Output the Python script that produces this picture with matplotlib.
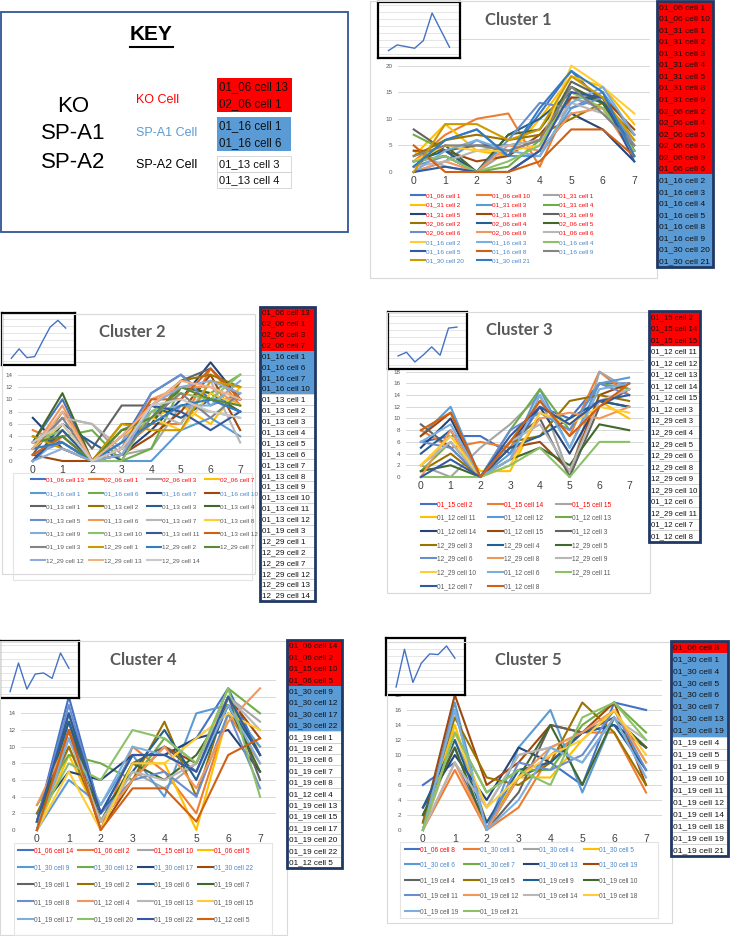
import numpy as np
import matplotlib
matplotlib.use("Agg")
import matplotlib.pyplot as plt
from matplotlib.patches import Rectangle
from matplotlib.lines import Line2D

W, H = 730, 936

# ---------------------------------------------------------
# Data
# ---------------------------------------------------------
x_cats = [0, 1, 2, 3, 4, 5, 6, 7]

key_names = ["01_06 cell 13", "02_06 cell 1", "01_16 cell 1", "01_16 cell 6",
             "01_13 cell 3", "01_13 cell 4"]
key_groups = ["KO", "KO", "A1", "A1", "A2", "A2"]

c1_names = ["01_06 cell 1", "01_06 cell 10", "01_31 cell 1", "01_31 cell 2", "01_31 cell 3",
            "01_31 cell 4", "01_31 cell 5", "01_31 cell 8", "01_31 cell 9", "02_06 cell 2",
            "02_06 cell 4", "02_06 cell 5", "02_06 cell 6", "02_06 cell 9", "01_06 cell 6",
            "01_16 cell 2", "01_16 cell 3", "01_16 cell 4", "01_16 cell 5", "01_16 cell 8",
            "01_16 cell 9", "01_30 cell 20", "01_30 cell 21"]
c1_groups = ["KO"] * 15 + ["A1"] * 8
c1_values = [
    [1, 6, 8, 3, 11, 19, 13, 3],
    [2, 7, 10, 11, 1, 14, 12, 3],
    [4, 1, 0, 4, 6, 14, 12, 6],
    [3, 9, 4, 3, 10, 18, 16, 9],
    [0, 2, 6, 3, 3, 12, 15, 7],
    [7, 4, 0, 1, 6, 16, 13, 4],
    [2, 3, 0, 0, 4, 11, 8, 2],
    [4, 4, 2, 3, 7, 14, 14, 8],
    [8, 4, 5, 5, 6, 17, 14, 4],
    [3, 6, 7, 6, 7, 10, 13, 7],
    [2, 4, 0, 7, 10, 15, 13, 5],
    [1, 5, 0, 7, 8, 16, 13, 4],
    [1, 3, 0, 6, 13, 12, 14, 5],
    [0, 2, 0, 5, 4, 11, 12, 3],
    [1, 2, 4, 5, 6, 13, 11, 5],
    [2, 5, 4, 4, 5, 20, 16, 11],
    [0, 4, 6, 4, 3, 13, 16, 7],
    [2, 3, 0, 2, 5, 15, 12, 4],
    [0, 1, 0, 0, 4, 15, 14, 2],
    [5, 0, 0, 0, 2, 8, 8, 3],
    [3, 5, 5, 4, 6, 16, 11, 5],
    [0, 9, 9, 6, 8, 18, 14, 6],
    [1, 6, 8, 3, 12, 19, 15, 3],
]
c1_mean = [2.2, 3.9, 3.4, 2.9, 5.2, 13.4, 8.3, 3.2]

c2_names = ["01_06 cell 13", "02_06 cell 1", "02_06 cell 3", "02_06 cell 7",
            "01_16 cell 1", "01_16 cell 6", "01_16 cell 7", "01_16 cell 10",
            "01_13 cell 1", "01_13 cell 2", "01_13 cell 3", "01_13 cell 4",
            "01_13 cell 5", "01_13 cell 6", "01_13 cell 7", "01_13 cell 8",
            "01_13 cell 9", "01_13 cell 10", "01_13 cell 11", "01_13 cell 12",
            "01_19 cell 3", "12_29 cell 1", "12_29 cell 2", "12_29 cell 7",
            "12_29 cell 12", "12_29 cell 13", "12_29 cell 14"]
c2_groups = ["KO"] * 4 + ["A1"] * 4 + ["A2"] * 19
c2_values = [
    [3, 10, 0, 3, 11, 14, 10, 10],
    [5, 3, 0, 2, 6, 6, 15, 9],
    [2, 7, 6, 1, 2, 9, 8, 7],
    [2, 6, 0, 5, 7, 9, 6, 12],
    [0, 5, 0, 0, 0, 5, 7, 4],
    [3, 4, 5, 0, 2, 12, 11, 14],
    [7, 2, 0, 1, 5, 10, 16, 10],
    [1, 0, 0, 1, 4, 8, 14, 5],
    [1, 8, 2, 9, 9, 13, 15, 10],
    [4, 3, 0, 6, 6, 13, 14, 12],
    [0, 6, 3, 0, 9, 7, 10, 8],
    [3, 11, 0, 5, 6, 12, 11, 8],
    [1, 3, 0, 2, 11, 14, 9, 11],
    [2, 9, 0, 3, 10, 12, 12, 9],
    [3, 7, 6, 2, 8, 6, 13, 3],
    [2, 6, 0, 4, 7, 5, 11, 9],
    [0, 4, 0, 3, 8, 9, 9, 13],
    [3, 5, 0, 0, 8, 11, 10, 14],
    [0, 5, 0, 4, 9, 8, 5, 8],
    [1, 4, 0, 2, 10, 10, 15, 10],
    [2, 7, 0, 1, 7, 11, 7, 11],
    [4, 2, 0, 6, 5, 5, 13, 12],
    [2, 3, 0, 3, 6, 9, 10, 8],
    [3, 4, 0, 5, 7, 12, 10, 9],
    [0, 2, 0, 1, 9, 12, 13, 11],
    [2, 8, 0, 4, 9, 13, 12, 10],
    [3, 6, 0, 2, 9, 10, 8, 7],
]
c2_mean = [2.0, 4.8, 2.2, 2.5, 7.0, 11.3, 13.3, 11.0]

c3_names = ["01_15 cell 2", "01_15 cell 14", "01_15 cell 15", "01_12 cell 11",
            "01_12 cell 12", "01_12 cell 13", "01_12 cell 14", "01_12 cell 15",
            "01_12 cell 3", "12_29 cell 3", "12_29 cell 4", "12_29 cell 5",
            "12_29 cell 6", "12_29 cell 8", "12_29 cell 9", "12_29 cell 10",
            "01_12 cell 6", "12_29 cell 11", "01_12 cell 7", "01_12 cell 8"]
c3_groups = ["KO"] * 3 + ["A2"] * 17
c3_values = [
    [6, 7, 7, 4, 12, 10, 16, 16],
    [8, 5, 6, 5, 13, 7, 18, 14],
    [2, 0, 5, 9, 14, 0, 18, 15],
    [2, 7, 1, 1, 11, 9, 13, 10],
    [7, 12, 0, 4, 15, 5, 16, 17],
    [1, 6, 0, 8, 15, 8, 16, 15],
    [5, 10, 0, 6, 12, 4, 13, 12],
    [7, 11, 0, 5, 6, 1, 14, 16],
    [9, 5, 0, 6, 10, 0, 12, 15],
    [1, 4, 0, 6, 7, 13, 14, 13],
    [4, 8, 0, 5, 7, 10, 13, 12],
    [1, 2, 0, 3, 5, 2, 9, 8],
    [6, 5, 0, 8, 11, 8, 16, 14],
    [0, 8, 0, 3, 10, 11, 10, 12],
    [2, 6, 0, 6, 9, 1, 13, 15],
    [2, 7, 0, 2, 11, 9, 12, 11],
    [6, 9, 0, 3, 14, 5, 15, 16],
    [0, 0, 0, 2, 5, 0, 6, 6],
    [0, 3, 0, 7, 12, 9, 13, 14],
    [8, 11, 0, 6, 13, 7, 12, 16],
]
c3_mean = [3.9, 5.0, 2.1, 4.2, 6.6, 4.1, 12.2, 12.5]

c4_names = ["01_06 cell 14", "01_06 cell 2", "01_15 cell 10", "01_06 cell 5",
            "01_30 cell 9", "01_30 cell 12", "01_30 cell 17", "01_30 cell 22",
            "01_19 cell 1", "01_19 cell 2", "01_19 cell 6", "01_19 cell 7",
            "01_19 cell 8", "01_12 cell 4", "01_19 cell 13", "01_19 cell 15",
            "01_19 cell 17", "01_19 cell 20", "01_19 cell 22", "01_12 cell 5"]
c4_groups = ["KO"] * 4 + ["A1"] * 4 + ["A2"] * 12
c4_values = [
    [1, 16, 2, 9, 9, 11, 17, 9],
    [0, 12, 0, 10, 7, 2, 14, 8],
    [0, 10, 1, 7, 5, 8, 16, 13],
    [0, 9, 1, 8, 8, 0, 14, 10],
    [0, 6, 3, 9, 4, 14, 15, 10],
    [3, 9, 8, 6, 11, 8, 17, 14],
    [2, 7, 6, 9, 9, 11, 12, 7],
    [0, 12, 0, 6, 10, 8, 16, 11],
    [1, 13, 0, 8, 10, 7, 16, 6],
    [2, 10, 1, 6, 13, 4, 16, 9],
    [1, 13, 2, 7, 12, 6, 15, 9],
    [0, 14, 1, 8, 6, 9, 15, 7],
    [1, 15, 2, 6, 7, 4, 14, 5],
    [3, 11, 1, 6, 10, 5, 13, 17],
    [0, 11, 1, 7, 6, 8, 16, 12],
    [0, 7, 0, 8, 8, 11, 14, 12],
    [0, 11, 3, 10, 9, 7, 15, 8],
    [1, 8, 6, 12, 11, 8, 17, 4],
    [1, 14, 2, 9, 9, 7, 16, 9],
    [0, 12, 0, 5, 5, 1, 9, 11],
]
c4_mean = [1.9, 10.5, 2.7, 7.2, 7.5, 5.9, 13.5, 8.9]

c5_names = ["01_06 cell 8", "01_30 cell 1", "01_30 cell 4", "01_30 cell 5",
            "01_30 cell 6", "01_30 cell 7", "01_30 cell 13", "01_30 cell 19",
            "01_19 cell 4", "01_19 cell 5", "01_19 cell 9", "01_19 cell 10",
            "01_19 cell 11", "01_19 cell 12", "01_19 cell 14", "01_19 cell 18",
            "01_19 cell 19", "01_19 cell 21"]
c5_groups = ["KO"] * 1 + ["A1"] * 7 + ["A2"] * 10
c5_values = [
    [6, 9, 1, 7, 9, 6, 17, 16],
    [0, 8, 0, 3, 10, 13, 13, 5],
    [0, 12, 3, 10, 11, 13, 15, 11],
    [0, 14, 1, 7, 7, 12, 16, 9],
    [0, 17, 0, 11, 16, 5, 15, 8],
    [0, 13, 5, 8, 8, 14, 17, 13],
    [3, 10, 4, 11, 9, 13, 14, 11],
    [1, 18, 6, 9, 14, 13, 17, 6],
    [2, 11, 0, 5, 14, 13, 15, 11],
    [1, 15, 7, 6, 9, 17, 13, 6],
    [3, 12, 1, 8, 9, 13, 14, 8],
    [2, 11, 0, 7, 14, 6, 15, 11],
    [0, 16, 0, 9, 8, 10, 16, 8],
    [0, 9, 0, 7, 11, 13, 16, 9],
    [0, 9, 3, 10, 11, 9, 15, 12],
    [0, 13, 3, 7, 10, 12, 16, 10],
    [0, 16, 0, 4, 11, 9, 15, 7],
    [0, 13, 5, 8, 6, 15, 17, 12],
]
c5_mean = [2.4, 13.8, 3.8, 9.6, 12.4, 12.2, 14.8, 11.1]

# ---------------------------------------------------------
# Styling
# ---------------------------------------------------------
PALETTE = ["#4472C4", "#ED7D31", "#A5A5A5", "#FFC000", "#5B9BD5", "#70AD47",
           "#264478", "#9E480E", "#636363", "#997300", "#255E91", "#43682B",
           "#698ED0", "#F1975A", "#B7B7B7", "#FFCD33", "#7CAFDD", "#8CC168",
           "#335AA1", "#D26012", "#848484", "#CC9A00", "#327DC2", "#5A8A39",
           "#8FAADC", "#F4B183", "#C9C9C9", "#FFD966", "#9DC3E6", "#A9D18E"]
TEXT_COLORS = {"KO": "#FF0000", "A1": "#4A86C8", "A2": "#595959"}
CELL_COLORS = {"KO": "#FF0000", "A1": "#5B9BD5", "A2": "#FFFFFF"}
SANS = ["Liberation Sans", "DejaVu Sans"]

plt.rcParams["font.family"] = SANS

fig = plt.figure(figsize=(W / 100, H / 100), dpi=100)


def frac(x, y):
    return x / W, 1 - y / H


def add_axes_px(x0, y0, x1, y1):
    return fig.add_axes([x0 / W, 1 - y1 / H, (x1 - x0) / W, (y1 - y0) / H])


def rect_px(x0, y0, x1, y1, **kw):
    r = Rectangle((x0 / W, 1 - y1 / H), (x1 - x0) / W, (y1 - y0) / H,
                  transform=fig.transFigure, **kw)
    fig.add_artist(r)
    return r


def text_px(x, y, s, **kw):
    return fig.text(x / W, 1 - y / H, s, **kw)


def cell_list(box, names, groups, fs, border=True):
    x0, y0, x1, y1 = box
    h = (y1 - y0) / len(names)
    for i, (nm, g) in enumerate(zip(names, groups)):
        top = y0 + i * h
        rect_px(x0, top, x1, top + h, facecolor=CELL_COLORS[g],
                edgecolor="#C8C8C8" if g == "A2" else "none", lw=0.5, zorder=5)
        text_px(x0 + 2, top + h / 2 + 0.5, nm, fontsize=fs, ha="left", va="center",
                color="#111111", zorder=6)
    if border:
        rect_px(x0, y0, x1, y1, facecolor="none", edgecolor="#1F3864", lw=2, zorder=7)


def draw_cluster(title, names, values, groups, mean, lay):
    # chart frame + legend box
    rect_px(*lay["frame"], facecolor="none", edgecolor="#D9D9D9", lw=0.8, zorder=0.5)
    if "legbox" in lay:
        rect_px(*lay["legbox"], facecolor="none", edgecolor="#E4E4E4", lw=0.8, zorder=0.5)

    ax = add_axes_px(*lay["plot"])
    ax.set_facecolor("none")
    for i, (nm, vals) in enumerate(zip(names, values)):
        ax.plot(x_cats, vals, color=PALETTE[i % len(PALETTE)], lw=1.5, label=nm,
                solid_joinstyle="round", clip_on=False)
    ax.set_xlim(-0.5, 7.5)
    ax.set_ylim(0, lay["ymax"])
    ax.set_yticks(np.arange(0, lay["ymax"] + 0.1, lay["ystep"]))
    ax.set_xticks(x_cats)
    ax.yaxis.grid(True, color="#D9D9D9", lw=0.7)
    ax.set_axisbelow(True)
    for s in ax.spines.values():
        s.set_visible(False)
    ax.tick_params(axis="y", length=0, labelsize=4.5, labelcolor="#595959", pad=4)
    ax.tick_params(axis="x", length=0, labelsize=7.5, labelcolor="#404040", pad=3)

    # legend, Excel style (row-major)
    ncol = lay["ncol"]
    order = [i for j in range(ncol) for i in range(j, len(names), ncol)]
    handles, labels = ax.get_legend_handles_labels()
    leg = fig.legend([handles[i] for i in order], [labels[i] for i in order],
                     loc="upper left", bbox_to_anchor=frac(*lay["legend"]), ncol=ncol,
                     fontsize=lay["lfs"], frameon=False, handlelength=2.2,
                     handletextpad=0.15, columnspacing=lay["colsp"],
                     labelspacing=lay["lsp"], borderpad=0, borderaxespad=0)
    for t, i in zip(leg.get_texts(), order):
        t.set_color(TEXT_COLORS[groups[i]])

    text_px(*lay["title"], title, fontsize=12, fontweight="bold", color="#595959",
            ha="center", va="center", family=["Lato", "DejaVu Sans"])

    # small thumbnail of the cluster average
    ins = add_axes_px(*lay["inset"])
    ins.plot(x_cats, mean, color="#4472C4", lw=1)
    ins.set_xlim(-1.2, 8.2)
    ins.set_ylim(0, lay["iy"])
    ins.set_xticks([])
    ins.set_yticks(np.arange(1.2, lay["iy"], 2.1))
    ins.yaxis.grid(True, color="#E2E2E2", lw=0.6)
    ins.tick_params(length=0, labelleft=False)
    for s in ins.spines.values():
        s.set_linewidth(1.6)
        s.set_color("black")

    cell_list(lay["list"], names, groups, lay["cfs"])


# ---------------------------------------------------------
# Key
# ---------------------------------------------------------
rect_px(1, 12, 348, 232, facecolor="none", edgecolor="#2F5597", lw=1.3)
text_px(151, 34, "KEY", fontsize=15, fontweight="bold", ha="center", va="center")
fig.add_artist(Line2D([130 / W, 173 / W], [1 - 46.5 / H, 1 - 46.5 / H],
                      transform=fig.transFigure, color="black", lw=1.5))
for lbl, y in [("KO", 107), ("SP-A1", 134), ("SP-A2", 163)]:
    text_px(73, y, lbl, fontsize=16, ha="center", va="center")
for lbl, y, c in [("KO Cell", 100, "#FF0000"), ("SP-A1 Cell", 133, "#5B9BD5"),
                  ("SP-A2 Cell", 165, "#000000")]:
    text_px(136, y, lbl, fontsize=9, ha="left", va="center", color=c)
cell_list((217, 78, 292, 112), key_names[:2], key_groups[:2], 8.3, border=False)
cell_list((217, 117, 291, 151), key_names[2:4], key_groups[2:4], 8.3, border=False)
cell_list((217, 156, 291, 188), key_names[4:], key_groups[4:], 8, border=False)

# ---------------------------------------------------------
# Clusters
# ---------------------------------------------------------
draw_cluster("Cluster 1", c1_names, c1_values, c1_groups, c1_mean, {
    "frame": (370, 1, 657, 278), "plot": (398, 39, 650, 172), "ymax": 25, "ystep": 5,
    "inset": (378, 2, 460, 58), "iy": 16.7, "title": (518, 20),
    "legend": (411, 193), "ncol": 3, "lfs": 4.6, "lsp": 0.6, "colsp": 2.1,
    "list": (657, 1, 713, 267), "cfs": 6.1})

draw_cluster("Cluster 2", c2_names, c2_values, c2_groups, c2_mean, {
    "frame": (2, 314, 255, 574), "plot": (18, 350, 255, 461), "ymax": 18, "ystep": 2,
    "inset": (2, 313, 75, 365), "iy": 15.5, "title": (132, 332),
    "legend": (31, 477), "ncol": 4, "lfs": 4.6, "lsp": 1.25, "colsp": 0.8,
    "legbox": (13, 473, 252, 580),
    "list": (260, 307, 315, 601), "cfs": 5.8})

draw_cluster("Cluster 3", c3_names, c3_values, c3_groups, c3_mean, {
    "frame": (387, 312, 650, 593), "plot": (406, 360, 644, 477), "ymax": 20, "ystep": 2,
    "inset": (388, 312, 467, 369), "iy": 17, "title": (519, 330),
    "legend": (421, 501), "ncol": 3, "lfs": 4.8, "lsp": 1.0, "colsp": 1.9,
    "list": (649, 311, 700, 542), "cfs": 5.6})

draw_cluster("Cluster 4", c4_names, c4_values, c4_groups, c4_mean, {
    "frame": (0, 641, 287, 935), "plot": (21, 680, 276, 830), "ymax": 18, "ystep": 2,
    "inset": (0, 641, 79, 698), "iy": 17.1, "title": (143, 660),
    "legend": (18, 847), "ncol": 4, "lfs": 4.8, "lsp": 1.54, "colsp": 0.8,
    "legbox": (14, 843, 272, 935),
    "list": (287, 640, 342, 868), "cfs": 5.9})

draw_cluster("Cluster 5", c5_names, c5_values, c5_groups, c5_mean, {
    "frame": (387, 642, 672, 923), "plot": (407, 680, 662, 830), "ymax": 20, "ystep": 2,
    "inset": (386, 638, 465, 695), "iy": 17.2, "title": (528, 660),
    "legend": (405, 846), "ncol": 4, "lfs": 4.7, "lsp": 1.3, "colsp": 0.9,
    "legbox": (400, 842, 658, 918),
    "list": (671, 641, 728, 856), "cfs": 6.1})

fig.savefig("out.png", dpi=100)
